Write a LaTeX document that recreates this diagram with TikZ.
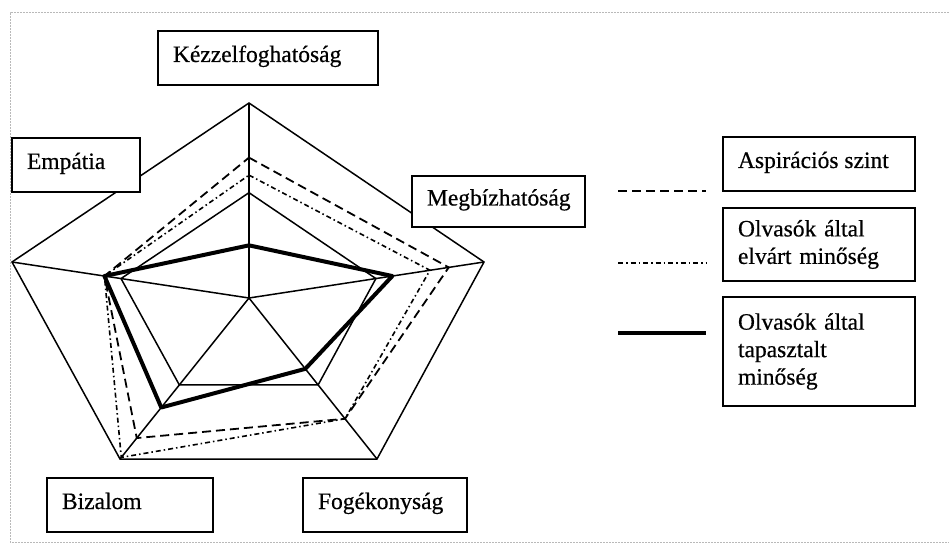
\documentclass[tikz,border=0pt]{standalone}
\usepackage{fontspec}
\setmainfont{Liberation Serif}
\newfontfamily\scanfont{Liberation Serif}[FakeBold=0.5]
\usetikzlibrary{calc}
\newcommand\lbltext[2]{\makebox[#1][l]{#2}}
\begin{document}
\begin{tikzpicture}[x=1pt,y=-1pt,
  gridline/.style={line width=1.5pt, line join=miter},
  aspline/.style={line width=1.8pt, dash pattern=on 9pt off 5pt},
  elvline/.style={line width=1.6pt, dash pattern=on 5pt off 3pt on 1.5pt off 3pt},
  tapline/.style={line width=4pt, line join=round},
  labelbox/.style={draw, line width=1.6pt, fill=white, inner xsep=15pt, inner ysep=0pt,
    anchor=center, font=\scanfont\fontsize{23.5}{27.5}\selectfont},
  oneline/.style={text height=15pt, text depth=7pt},
  multiline/.style={align=left, text width=162pt},
  pageframe/.style={gray!55, line width=1pt, dash pattern=on 2pt off 1pt}]
\useasboundingbox (0,0) rectangle (949,545);
% page frame
\draw[pageframe] (949,13) -- (10,13) -- (10,542) -- (949,542);
% axes
\coordinate (C) at (249,298);
\coordinate (T) at (249,103);
\coordinate (R) at (484,262);
\coordinate (BR) at (377,459);
\coordinate (BL) at (120,459);
\coordinate (L) at (12,262);
\draw[gridline] (T) -- (R) -- (BR) -- (BL) -- (L) -- cycle;
\foreach \p in {T,R,BR,BL,L} \draw[gridline] (C) -- (\p);
\draw[gridline] ($(C)!0.54!(T)$) -- ($(C)!0.54!(R)$) -- ($(C)!0.54!(BR)$) -- ($(C)!0.54!(BL)$) -- ($(C)!0.54!(L)$) -- cycle;
% data
\draw[aspline] ($(C)!0.72!(T)$) -- ($(C)!0.85!(R)$) -- ($(C)!0.75!(BR)$) -- ($(C)!0.87!(BL)$) -- ($(C)!0.61!(L)$) -- cycle;
\draw[elvline] ($(C)!0.63!(T)$) -- ($(C)!0.77!(R)$) -- ($(C)!0.75!(BR)$) -- ($(C)!0.99!(BL)$) -- ($(C)!0.61!(L)$) -- cycle;
\draw[tapline] ($(C)!0.27!(T)$) -- ($(C)!0.61!(R)$) -- ($(C)!0.44!(BR)$) -- ($(C)!0.68!(BL)$) -- ($(C)!0.61!(L)$) -- cycle;
% axis labels
\node[labelbox, oneline, minimum height=54pt] (kez) at (268,58) {\lbltext{190pt}{Kézzelfoghatóság}};
\node[labelbox, oneline, minimum height=54pt] (emp) at (76,165) {\lbltext{98pt}{Empátia}};
\node[labelbox, oneline, minimum height=51pt] (meg) at (498.5,201.5) {\lbltext{143pt}{Megbízhatóság}};
\node[labelbox, oneline, minimum height=54pt] (biz) at (130,505) {\lbltext{136pt}{Bizalom}};
\node[labelbox, oneline, minimum height=54pt] (fog) at (385,505) {\lbltext{134pt}{Fogékonyság}};
% legend
\node[labelbox, oneline, minimum height=54pt] (asp) at (819,164) {\lbltext{162pt}{Aspirációs szint}};
\node[labelbox, multiline, minimum height=73pt] (elv) at (819,244.5) {Olvasók által\\elvárt minőség};
\node[labelbox, multiline, minimum height=109pt] (tap) at (819,351.5) {Olvasók által\\tapasztalt\\minőség};
\coordinate (la1) at (618,191); \coordinate (la2) at (706,191);
\coordinate (le1) at (618,263); \coordinate (le2) at (706,263);
\coordinate (lt1) at (618,333); \coordinate (lt2) at (706,333);
\draw[aspline] (la1) -- (la2);
\draw[elvline] (le1) -- (le2);
\draw[tapline] (lt1) -- (lt2);
\end{tikzpicture}
\end{document}
